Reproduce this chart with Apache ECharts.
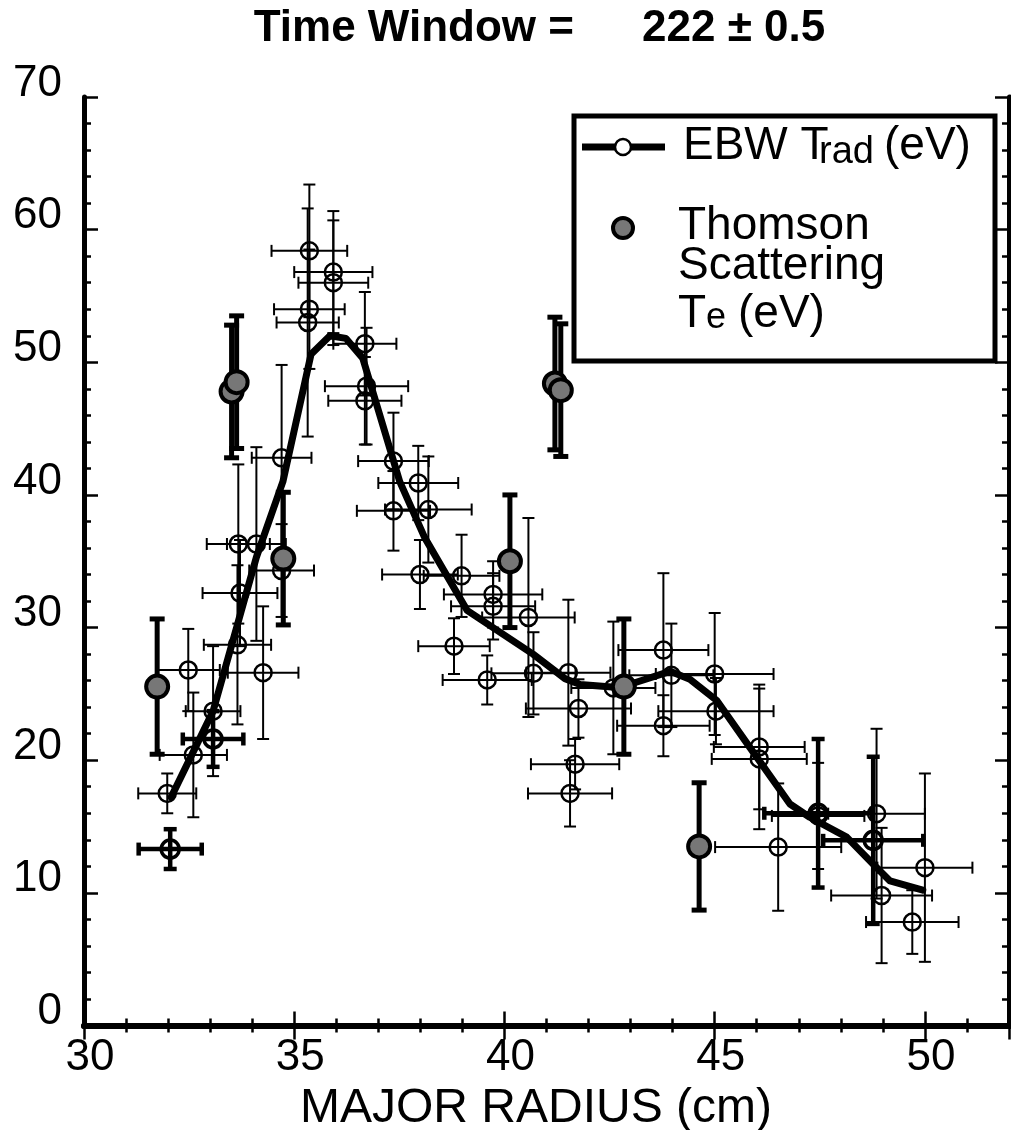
<!DOCTYPE html>
<html><head><meta charset="utf-8">
<script src="https://cdn.jsdelivr.net/npm/echarts@6/dist/echarts.min.js"></script>
<style>html,body{margin:0;padding:0;background:#fff}#c{width:1011px;height:1130px}</style>
</head><body><div id="c"></div>
<script>
// EBW radiometer points (open circles): x, y, half x-error, half y-error
const ebwX    = [31.98,32.48,32.6,33.07,33.67,33.71,33.65,34.1,34.26,34.7,34.7,35.36,35.93,35.93,35.36,35.32,36.68,36.72,36.68,37.36,37.36,37.95,38.19,37.99,38.98,39.73,39.73,40.57,38.8,39.59,40.69,41.52,41.76,41.68,41.56,42.59,43.78,43.97,43.78,45.0,45.03,46.06,46.06,46.51,47.46,48.85,48.97,50.0,49.7];
const ebwY    = [17.5,26.8,20.4,23.7,36.3,32.6,28.7,36.3,26.6,34.3,42.8,58.4,56.8,56.0,54.0,53.0,51.4,48.2,47.1,42.55,38.8,40.9,38.9,34.0,33.9,32.5,31.6,30.76,28.6,26.05,26.55,26.6,23.9,19.7,17.5,25.45,28.3,26.4,22.6,26.5,23.7,21.0,20.1,13.45,15.8,15.97,9.8,11.9,7.8];
const ebwXErr = [0.69,0.75,0.8,0.65,0.75,0.89,0.8,0.7,0.84,0.77,0.71,0.9,0.93,0.83,0.84,0.74,0.75,0.99,0.87,0.84,0.87,0.95,1.03,0.9,0.9,1.17,1.0,1.1,0.85,1.06,1.0,1.0,1.25,1.05,1.0,1.0,1.07,1.0,1.1,1.4,1.37,1.08,1.13,1.5,1.1,1.15,1.2,1.13,1.1];
const ebwYErr = [1.5,3.1,4.7,4.9,6.0,4.0,6.0,7.3,5.0,3.5,7.0,5.0,4.6,4.7,4.5,8.6,3.9,4.4,3.3,3.65,3.0,2.8,4.0,2.6,3.1,2.5,2.5,7.5,2.1,1.85,3.1,5.5,2.2,1.9,2.5,5.0,5.8,3.9,2.3,4.6,2.5,4.7,5.3,4.8,4.0,6.4,5.1,7.1,2.4];
// EBW points drawn with heavy error bars
const ebwBoldX    = [32.05,33.07,47.46,48.77];
const ebwBoldY    = [13.3,21.6,16.0,13.96];
const ebwBoldXErr = [0.75,0.72,1.28,1.19];
const ebwBoldYErr = [1.5,2.1,5.6,6.3];
// Thomson scattering Te (filled grey)
const tsX    = [31.74,33.51,33.63,34.74,40.13,41.2,41.34,42.84,44.63];
const tsY    = [25.55,47.8,48.5,35.2,35.0,48.4,47.9,25.55,13.5];
const tsYErr = [5.1,5.0,5.0,5.0,5.0,5.0,5.0,5.1,4.8];
// EBW Trad profile curve
const curveX = [32.07,33.07,34.1,34.73,35.4,35.85,36.23,36.63,37.51,38.1,39.11,40.68,41.44,41.8,42.63,43.06,43.94,44.41,45.05,45.84,46.79,47.26,48.14,48.76,49.17,49.95];
const curveY = [17.2,23.7,35.3,41.0,50.6,52.0,51.8,50.3,41.0,36.8,31.3,28.0,26.15,25.7,25.5,25.8,26.7,26.1,24.5,20.95,16.7,15.7,14.2,12.2,10.9,10.2];

const FONT = "'Liberation Sans', Arial, Helvetica, sans-serif";

function barsRenderer(lw, cap) {
  return function (params, api) {
    const x = api.value(0), y = api.value(1), xe = api.value(2), ye = api.value(3);
    const st = {stroke: '#000', lineWidth: lw, fill: null};
    const ch = [];
    if (ye > 0) {
      const a = api.coord([x, y - ye]), b = api.coord([x, y + ye]);
      ch.push({type: 'line', shape: {x1: a[0], y1: a[1], x2: b[0], y2: b[1]}, style: st});
      ch.push({type: 'line', shape: {x1: a[0] - cap, y1: a[1], x2: a[0] + cap, y2: a[1]}, style: st});
      ch.push({type: 'line', shape: {x1: b[0] - cap, y1: b[1], x2: b[0] + cap, y2: b[1]}, style: st});
    }
    if (xe > 0) {
      const a = api.coord([x - xe, y]), b = api.coord([x + xe, y]);
      ch.push({type: 'line', shape: {x1: a[0], y1: a[1], x2: b[0], y2: b[1]}, style: st});
      ch.push({type: 'line', shape: {x1: a[0], y1: a[1] - cap, x2: a[0], y2: a[1] + cap}, style: st});
      ch.push({type: 'line', shape: {x1: b[0], y1: b[1] - cap, x2: b[0], y2: b[1] + cap}, style: st});
    }
    return {type: 'group', children: ch};
  };
}

const ebwData = ebwX.map((x, i) => [x, ebwY[i], ebwXErr[i], ebwYErr[i]]);
const ebwBoldData = ebwBoldX.map((x, i) => [x, ebwBoldY[i], ebwBoldXErr[i], ebwBoldYErr[i]]);
const tsData = tsX.map((x, i) => [x, tsY[i], 0, tsYErr[i]]);
const curveData = curveX.map((x, i) => [x, curveY[i]]);

const G = {left: 84, right: 2, top: 97, bottom: 104.5, containLabel: false, outerBoundsMode: 'none'};
const lineBlack = w => ({show: true, lineStyle: {color: '#000', width: w}});

const option = {
  animation: false,
  backgroundColor: '#fff',
  grid: [Object.assign({}, G), Object.assign({}, G)],
  xAxis: [
    {gridIndex: 0, type: 'value', position: 'bottom', min: 30, max: 52, interval: 5,
     axisLine: lineBlack(6), splitLine: {show: false},
     axisTick: {inside: true, length: 14, lineStyle: {color: '#000', width: 2.5}},
     axisLabel: {color: '#000', fontSize: 44, fontFamily: FONT, margin: 10, showMaxLabel: false, padding: [0, 0, 0, 12]},
     name: 'MAJOR RADIUS (cm)', nameLocation: 'middle', nameGap: 49,
     nameTextStyle: {color: '#000', fontSize: 48, fontFamily: FONT, padding: [0, 21, 0, 0]}},
    {gridIndex: 0, type: 'value', position: 'top', min: 30, max: 52, interval: 5,
     axisLine: lineBlack(6), splitLine: {show: false}, axisLabel: {show: false},
     axisTick: {inside: true, length: 14, lineStyle: {color: '#000', width: 2.5}}},
    {gridIndex: 1, type: 'value', position: 'bottom', min: 30, max: 52, interval: 1,
     axisLine: {show: false}, splitLine: {show: false}, axisLabel: {show: false},
     axisTick: {inside: true, length: 7, lineStyle: {color: '#000', width: 2.5}}},
    {gridIndex: 1, type: 'value', position: 'top', min: 30, max: 52, interval: 1,
     axisLine: {show: false}, splitLine: {show: false}, axisLabel: {show: false},
     axisTick: {inside: true, length: 7, lineStyle: {color: '#000', width: 2.5}}}
  ],
  yAxis: [
    {gridIndex: 0, type: 'value', position: 'left', min: 0, max: 70, interval: 10,
     axisLine: lineBlack(5), splitLine: {show: false},
     axisTick: {inside: true, length: 14, lineStyle: {color: '#000', width: 2.5}},
     axisLabel: {color: '#000', fontSize: 44, fontFamily: FONT, margin: 22, verticalAlign: 'bottom', lineHeight: 27}},
    {gridIndex: 0, type: 'value', position: 'right', min: 0, max: 70, interval: 10,
     axisLine: lineBlack(5), splitLine: {show: false}, axisLabel: {show: false},
     axisTick: {inside: true, length: 14, lineStyle: {color: '#000', width: 2.5}}},
    {gridIndex: 1, type: 'value', position: 'left', min: 0, max: 70, interval: 2,
     axisLine: {show: false}, splitLine: {show: false}, axisLabel: {show: false},
     axisTick: {inside: true, length: 7, lineStyle: {color: '#000', width: 2.5}}},
    {gridIndex: 1, type: 'value', position: 'right', min: 0, max: 70, interval: 2,
     axisLine: {show: false}, splitLine: {show: false}, axisLabel: {show: false},
     axisTick: {inside: true, length: 7, lineStyle: {color: '#000', width: 2.5}}}
  ],
  series: [
    {type: 'custom', name: 'EBW err', xAxisIndex: 0, yAxisIndex: 0, z: 2,
     renderItem: barsRenderer(2, 6), data: ebwData, encode: {x: 0, y: 1}},
    {type: 'scatter', name: 'EBW', xAxisIndex: 0, yAxisIndex: 0, z: 3,
     symbol: 'circle', symbolSize: 17, data: ebwData.map(d => [d[0], d[1]]),
     itemStyle: {color: 'rgba(255,255,255,0)', borderColor: '#000', borderWidth: 2.5, opacity: 1}},
    {type: 'line', name: 'EBW Trad', xAxisIndex: 0, yAxisIndex: 0, z: 4,
     data: curveData, symbol: 'none', smooth: false,
     lineStyle: {color: '#000', width: 7, join: 'round', cap: 'round'}},
    {type: 'custom', name: 'EBW bold err', xAxisIndex: 0, yAxisIndex: 0, z: 5,
     renderItem: barsRenderer(4.5, 6.5), data: ebwBoldData, encode: {x: 0, y: 1}},
    {type: 'scatter', name: 'EBW bold', xAxisIndex: 0, yAxisIndex: 0, z: 5,
     symbol: 'circle', symbolSize: 18, data: ebwBoldData.map(d => [d[0], d[1]]),
     itemStyle: {color: 'rgba(255,255,255,0)', borderColor: '#000', borderWidth: 3.5, opacity: 1}},
    {type: 'custom', name: 'Thomson err', xAxisIndex: 0, yAxisIndex: 0, z: 6,
     renderItem: barsRenderer(5, 7.5), data: tsData, encode: {x: 0, y: 1}},
    {type: 'scatter', name: 'Thomson', xAxisIndex: 0, yAxisIndex: 0, z: 7,
     symbol: 'circle', symbolSize: 22, data: tsData.map(d => [d[0], d[1]]),
     itemStyle: {color: '#777777', borderColor: '#000', borderWidth: 4, opacity: 1}}
  ],
  graphic: [
    {type: 'text', z: 100, style: {text: 'Time Window =', x: 574, y: 29, align: 'right', verticalAlign: 'middle',
      font: 'bold 44px ' + FONT, fill: '#000'}},
    {type: 'text', z: 100, style: {text: '222 ± 0.5', x: 642, y: 29, align: 'left', verticalAlign: 'middle',
      font: 'bold 44px ' + FONT, fill: '#000'}},
    {type: 'rect', z: 100, shape: {x: 574, y: 116, width: 421, height: 245},
     style: {fill: '#fff', stroke: '#000', lineWidth: 5}},
    {type: 'line', z: 101, shape: {x1: 582, y1: 147, x2: 665, y2: 147}, style: {stroke: '#000', lineWidth: 7}},
    {type: 'circle', z: 102, shape: {cx: 623, cy: 147, r: 8}, style: {fill: '#fff', stroke: '#000', lineWidth: 2.5}},
    {type: 'circle', z: 102, shape: {cx: 623, cy: 228, r: 10}, style: {fill: '#777777', stroke: '#000', lineWidth: 4}},
    {type: 'text', z: 102, style: {text: 'EBW T', x: 683, y: 146, verticalAlign: 'middle', font: '46px ' + FONT, fill: '#000'}},
    {type: 'text', z: 102, style: {text: 'rad', x: 819, y: 152.5, verticalAlign: 'middle', font: '38px ' + FONT, fill: '#000'}},
    {type: 'text', z: 102, style: {text: '(eV)', x: 884, y: 146, verticalAlign: 'middle', font: '46px ' + FONT, fill: '#000'}},
    {type: 'text', z: 102, style: {text: 'Thomson', x: 678, y: 226, verticalAlign: 'middle', font: '46px ' + FONT, fill: '#000'}},
    {type: 'text', z: 102, style: {text: 'Scattering', x: 678, y: 266, verticalAlign: 'middle', font: '46px ' + FONT, fill: '#000'}},
    {type: 'text', z: 102, style: {text: 'T', x: 678, y: 314, verticalAlign: 'middle', font: '46px ' + FONT, fill: '#000'}},
    {type: 'text', z: 102, style: {text: 'e', x: 706, y: 318.5, verticalAlign: 'middle', font: '36px ' + FONT, fill: '#000'}},
    {type: 'text', z: 102, style: {text: '(eV)', x: 738, y: 314, verticalAlign: 'middle', font: '46px ' + FONT, fill: '#000'}}
  ]
};

const chart = echarts.init(document.getElementById('c'), null, {renderer: 'canvas'});
chart.setOption(option);
</script>
</body></html>
